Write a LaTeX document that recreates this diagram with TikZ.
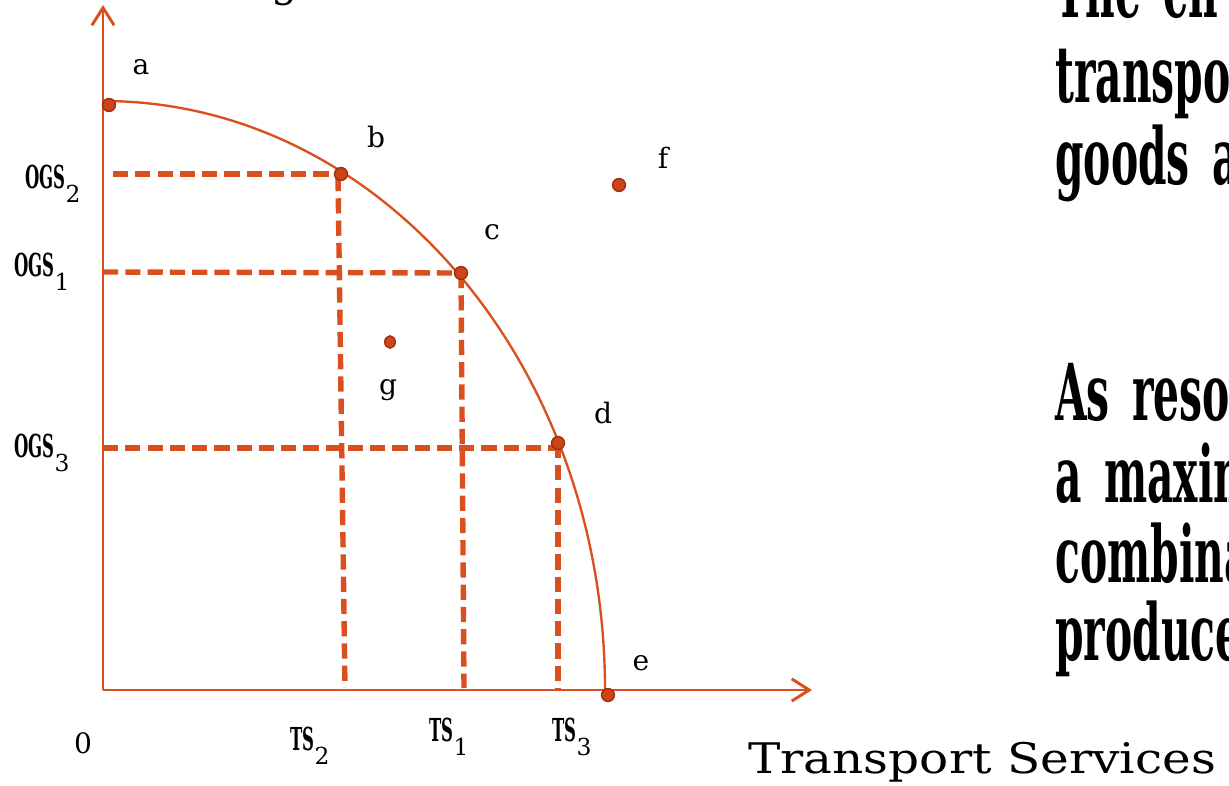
\documentclass[tikz,border=0pt]{standalone}
\usepackage{fontspec}
\setmainfont{DejaVu Serif}
\newfontfamily\condfont[FakeStretch=0.52]{DejaVu Serif}
\newfontfamily\widefont[FakeStretch=1.15]{DejaVu Serif}
\usetikzlibrary{arrows.meta,shapes.geometric}
\definecolor{PPFLine}{HTML}{D9501E}
\definecolor{PPFDot}{HTML}{CC4418}
\definecolor{PPFDotEdge}{HTML}{9E2F0E}
\newcommand{\axlab}[2]{{\condfont\bfseries #1}\raisebox{-0.45em}{\fontsize{20}{22}\selectfont #2}}
\newcommand{\wsp}{\hspace{7pt} }

\begin{document}
\begin{tikzpicture}[x=0.03cm,y=-0.03cm,
    axis/.style={PPFLine,line width=2.5pt,-{Straight Barb[length=15pt,width=19pt]}},
    frontier/.style={PPFLine,line width=2pt},
    guide/.style={PPFLine,line width=4.6pt,dash pattern=on 13pt off 6pt},
    dot/.style={circle,fill=PPFDot,draw=PPFDotEdge,line width=1.2pt,inner sep=0pt,minimum size=11pt},
    ptlab/.style={font=\fontsize{24}{28}\selectfont},
    axtext/.style={font=\fontsize{27}{30}\selectfont,inner sep=0pt},
    bodytext/.style={font=\condfont\bfseries\fontsize{67}{70}\selectfont,anchor=base west,inner sep=0pt}]
    \useasboundingbox (0,0) rectangle (1229,786);
    \clip (0,0) rectangle (1229,786);

    \coordinate (O) at (103,690);
    \coordinate (ytip) at (103,5);
    \coordinate (xtip) at (812,690);
    \draw[axis] (O) -- (ytip);
    \draw[axis] (O) -- (xtip);

    \draw[frontier] (103,101) arc[start angle=-90,end angle=0,x radius=502,y radius=589];

    \coordinate (pa) at (109,105);
    \coordinate (pb) at (341,174);
    \coordinate (pc) at (461,273);
    \coordinate (pd) at (558,443);
    \coordinate (pe) at (608,695);
    \coordinate (pf) at (619,185);
    \coordinate (pg) at (390,342);

    \coordinate (ogs2) at (113,174);
    \coordinate (ogs1) at (103,272);
    \coordinate (ogs3) at (103,448);
    \coordinate (ts2) at (345,688);
    \coordinate (ts1) at (464,688);
    \coordinate (ts3) at (558,688);
    \draw[guide] (ogs2) -- (pb);
    \draw[guide] (ogs1) -- (pc);
    \draw[guide] (ogs3) -- (558,448);
    \draw[guide] (338,176) -- (ts2);
    \draw[guide] (pc) -- (ts1);
    \draw[guide] (pd) -- (ts3);

    \foreach \p in {a,b,c,d,e,f}
      \node[dot] (\p) at (p\p) {};
    \node[dot,ellipse,minimum width=9pt,minimum height=10.5pt] (g) at (pg) {};

    \node[ptlab] (la) at (141,67) {a};
    \node[ptlab] (lb) at (376,137) {b};
    \node[ptlab] (lc) at (492,232) {c};
    \node[ptlab] (ld) at (603,413) {d};
    \node[ptlab] (le) at (641,663) {e};
    \node[ptlab] (lf) at (663,158) {f};
    \node[ptlab] (lg) at (388,390) {g};

    \node[axtext] (lOGS2) at (53,184) {\axlab{OGS}{2}};
    \node[axtext] (lOGS1) at (42,272) {\axlab{OGS}{1}};
    \node[axtext] (lOGS3) at (42,453) {\axlab{OGS}{3}};
    \node[axtext] (lTS2) at (310,746) {\axlab{TS}{2}};
    \node[axtext] (lTS1) at (449,737) {\axlab{TS}{1}};
    \node[axtext] (lTS3) at (572,737) {\axlab{TS}{3}};
    \node[axtext,font=\fontsize{24}{28}\selectfont] (l0) at (83,743) {0};

    \node[font=\widefont\fontsize{36}{40}\selectfont,anchor=base west,inner sep=0pt] (xlab) at (748,773) {Transport Services};
    \node[font=\fontsize{36}{40}\selectfont,anchor=base,inner sep=0pt] (ylab) at (285,-3) {g};

    \foreach \yb/\txt in {18/The\wsp ch,102/transpo,184/goods\wsp a,420/As\wsp reso,502/a\wsp maxim,582/combina,660/produce}
      \node[bodytext] at (1055,\yb) {\txt};
  \end{tikzpicture}
\end{document}
